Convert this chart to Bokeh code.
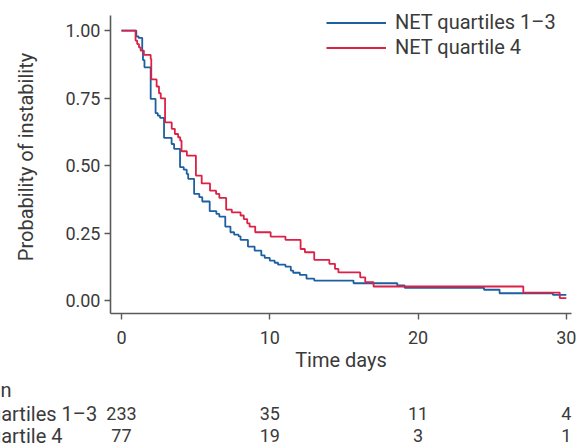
from bokeh.plotting import figure
from bokeh.layouts import column
from bokeh.models import (ColumnDataSource, Legend, LegendItem, Range1d,
                          FixedTicker, NumeralTickFormatter)
from bokeh.core.properties import value
from bokeh.embed import file_html
from bokeh.resources import INLINE

# ---------------- data ----------------
series_names = ["NET quartiles 1\u20133", "NET quartile 4"]

time_q13 = [0, 1.0, 1.15, 1.4, 1.45, 1.55, 1.97, 2.3, 2.45, 2.6, 2.87, 3.38, 3.55, 3.95,
            4.2, 4.4, 4.5, 4.9, 5.25, 5.45, 5.95, 6.4, 6.6, 7.0, 7.35, 7.6, 7.9, 8.03,
            8.53, 8.98, 9.43, 9.66, 10.0, 10.33, 10.56, 11.06, 11.42, 11.58, 12.03,
            12.48, 13.0, 15.65, 18.6, 19.1, 24.45, 25.5, 29.1, 30.0]
surv_q13 = [1.0, 0.979, 0.973, 0.926, 0.891, 0.864, 0.747, 0.694, 0.685, 0.677, 0.603,
            0.58, 0.562, 0.494, 0.485, 0.469, 0.451, 0.395, 0.383, 0.367, 0.331, 0.321,
            0.311, 0.274, 0.253, 0.244, 0.238, 0.225, 0.2, 0.185, 0.167, 0.158, 0.148,
            0.14, 0.133, 0.126, 0.111, 0.103, 0.095, 0.081, 0.074, 0.064, 0.056, 0.047,
            0.04, 0.027, 0.021, 0.021]

time_q4 = [0, 0.95, 1.06, 1.18, 1.29, 1.51, 1.97, 2.01, 2.37, 2.53, 2.65, 2.94, 3.39,
           3.6, 3.82, 3.96, 4.05, 4.41, 5.02, 5.41, 5.97, 6.38, 6.6, 7.06, 7.44, 8.03,
           8.25, 8.48, 8.64, 9.02, 10.06, 11.06, 12.08, 12.37, 13.0, 14.02, 14.4,
           14.63, 16.1, 16.44, 17.0, 27.1, 29.56, 30.0]
surv_q4 = [1.0, 0.963, 0.95, 0.938, 0.926, 0.91, 0.895, 0.819, 0.793, 0.768, 0.749,
           0.66, 0.636, 0.617, 0.605, 0.593, 0.553, 0.537, 0.463, 0.434, 0.407, 0.395,
           0.38, 0.337, 0.327, 0.315, 0.302, 0.286, 0.274, 0.253, 0.237, 0.225, 0.191,
           0.179, 0.151, 0.136, 0.117, 0.104, 0.086, 0.068, 0.052, 0.029, 0.009, 0.009]

risk_times = [0, 10, 20, 30]
risk_q13 = [233, 35, 11, 4]
risk_q4 = [77, 19, 3, 1]
risk_header = "n"

x_ticks = [0, 10, 20, 30]
y_ticks = [0, 0.25, 0.5, 0.75, 1.0]
x_title = "Time days"
y_title = "Probability of instability"

# ---------------- styling ----------------
BLUE = "#1d5fa0"
RED = "#dc2046"
TXT = "#3a3a3a"
AX = "#5a5a5a"
FONT = "Roboto"
W = 586
TOP_H = 380
TAB_H = 68

X0, X1 = -0.74, 30.35          # visible time range of the plot frame
FL, FR = 110, 571              # frame left / right in pixels
Y0, Y1 = -0.048, 1.056         # extent of the y axis line
AX_TOP, AX_BOT = 15, 313       # pixel rows of the y axis ends
PX_PER_DAY = (FR - FL) / (X1 - X0)
PX_PER_UNIT = (AX_BOT - AX_TOP) / (Y1 - Y0)

p = figure(width=W, height=TOP_H, x_range=(X0, X1),
           y_range=(Y0, Y1 + AX_TOP / PX_PER_UNIT),
           output_backend="svg", toolbar_location=None,
           min_border_left=FL, min_border_right=W - FR, min_border_top=0,
           min_border_bottom=TOP_H - AX_BOT)
p.frame_align = False
p.outline_line_color = None
p.grid.visible = False

r1 = p.step(time_q13, surv_q13, mode="after", line_color=BLUE, line_width=1.8)
r2 = p.step(time_q4, surv_q4, mode="after", line_color=RED, line_width=1.8)

for ax in (p.xaxis[0], p.yaxis[0]):
    ax.axis_line_color = AX
    ax.axis_line_width = 1.6
    ax.major_tick_line_color = AX
    ax.major_tick_line_width = 1.4
    ax.major_tick_out = 6
    ax.major_tick_in = 0
    ax.minor_tick_line_color = None
    ax.major_label_text_font = FONT
    ax.major_label_text_font_size = "18px"
    ax.major_label_text_color = TXT
    ax.axis_label_text_font = FONT
    ax.axis_label_text_font_size = "20px"
    ax.axis_label_text_font_style = "normal"
    ax.axis_label_text_color = TXT

p.yaxis.bounds = (Y0, Y1)
p.xaxis.ticker = FixedTicker(ticks=x_ticks)
p.yaxis.ticker = FixedTicker(ticks=y_ticks)
p.yaxis.formatter = NumeralTickFormatter(format="0.00")
p.xaxis.major_label_standoff = 11
p.yaxis.major_label_standoff = 4
p.xaxis.axis_label = x_title
p.yaxis.axis_label = y_title
p.xaxis.axis_label_standoff = 1
p.yaxis.axis_label_standoff = 24

legend = Legend(items=[LegendItem(label=series_names[0], renderers=[r1]),
                       LegendItem(label=series_names[1], renderers=[r2])],
                location=(216, 254), padding=0, margin=0, spacing=1,
                glyph_width=60, glyph_height=23, label_height=23, label_standoff=9,
                label_text_font=FONT, label_text_font_size="20px",
                label_text_color=TXT, border_line_color=None,
                background_fill_alpha=0)
p.add_layout(legend)

# ---------------- number-at-risk table (same time scale) ----------------
t_left = X0 - FL / PX_PER_DAY
t_right = X1 + (W - FR) / PX_PER_DAY
t2 = figure(width=W, height=TAB_H, x_range=Range1d(t_left, t_right),
            y_range=Range1d(TOP_H + TAB_H, TOP_H),
            output_backend="svg", toolbar_location=None,
            x_axis_location=None, y_axis_location=None,
            min_border_left=0, min_border_right=0, min_border_top=0,
            min_border_bottom=0)
t2.frame_align = False
t2.outline_line_color = None
t2.grid.visible = False

head_y, row1_y, row2_y = 389, 413, 435
label_t = t_left - 64 / PX_PER_DAY

risk_src = ColumnDataSource(dict(
    x=risk_times + risk_times,
    y=[row1_y] * len(risk_times) + [row2_y] * len(risk_times),
    t=[str(v) for v in risk_q13] + [str(v) for v in risk_q4]))
t2.text(x="x", y="y", text="t", source=risk_src, text_align="center",
        text_baseline="middle", text_font=value(FONT),
        text_font_size=value("18px"), text_color=TXT)

lab_src = ColumnDataSource(dict(
    x=[label_t, label_t], y=[row1_y, row2_y], t=series_names))
t2.text(x="x", y="y", text="t", source=lab_src, text_align="left",
        text_baseline="middle", text_font=value(FONT),
        text_font_size=value("20px"), text_color=TXT)
t2.text(x=[t_left], y=[head_y], text=[risk_header], text_align="left",
        text_baseline="middle", text_font=value(FONT),
        text_font_size=value("20px"), text_color=TXT)

layout = column(p, t2, spacing=0)
open("out.html", "w").write(file_html(layout, INLINE))
